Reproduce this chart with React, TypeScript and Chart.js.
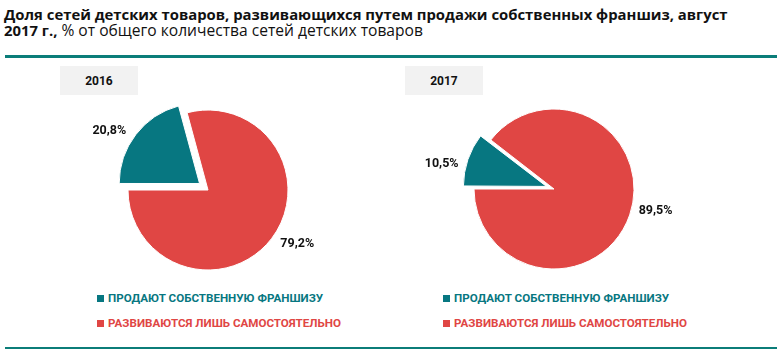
import React, { useEffect, useRef } from 'react';
import { Chart, registerables } from 'chart.js';

Chart.register(...registerables);

const categories = ['ПРОДАЮТ СОБСТВЕННУЮ ФРАНШИЗУ', 'РАЗВИВАЮТСЯ ЛИШЬ САМОСТОЯТЕЛЬНО'];
const years = ['2016', '2017'];
const values2016 = [20.8, 79.2];
const values2017 = [10.5, 89.5];
const colors = ['#077781', '#e04644'];

const titleLine1 = 'Доля сетей детских товаров, развивающихся путем продажи собственных франшиз, август';
const titleLine2Bold = '2017 г.,';
const titleLine2Rest = ' % от общего количества сетей детских товаров';

const FONT = "Roboto, 'Noto Sans', sans-serif";
const TITLE_FONT = "'Open Sans', Roboto, sans-serif";
const TEAL_LINE = '#0b7d79';
const LABEL_ANGLE_SHIFT = (-6.5 * Math.PI) / 180;

// Chart.js shifts an arc by offset/4*(1+fix); solve for the offset giving `px`
function offsetFor(values: number[], idx: number, px: number) {
  const total = values.reduce((a, b) => a + b, 0);
  const circ = (values[idx] / total) * Math.PI * 2;
  const fix = 1 - Math.sin(Math.min(Math.PI, circ));
  return (px * 4) / (1 + fix);
}

const labelPlugin = {
  id: 'outLabels',
  afterDatasetsDraw(chart: any) {
    const ctx = chart.ctx;
    const meta = chart.getDatasetMeta(0);
    const ds = chart.data.datasets[0];
    ctx.save();
    ctx.font = 'bold 12.5px ' + FONT;
    ctx.fillStyle = '#111';
    ctx.textAlign = 'center';
    ctx.textBaseline = 'middle';
    meta.data.forEach((arc: any, i: number) => {
      const p = arc.getProps(['x', 'y', 'startAngle', 'endAngle', 'outerRadius'], true);
      const mid = (p.startAngle + p.endAngle) / 2 + LABEL_ANGLE_SHIFT;
      const shift = ds.shiftPx ? ds.shiftPx[i] : 0;
      const r = p.outerRadius + shift + 24;
      const txt = ds.data[i].toFixed(1).replace('.', ',') + '%';
      ctx.fillText(txt, p.x + Math.cos(mid) * r, p.y + Math.sin(mid) * r);
    });
    ctx.restore();
  },
};

function PieChart({ values, left, top }: { values: number[]; left: number; top: number }) {
  const ref = useRef<HTMLCanvasElement>(null);
  useEffect(() => {
    if (!ref.current) return;
    const shiftPx = [11, 0];
    const chart = new Chart(ref.current, {
      type: 'pie',
      data: {
        labels: categories,
        datasets: [
          {
            data: values,
            backgroundColor: colors,
            borderColor: '#ffffff',
            borderWidth: 1,
            offset: values.map((_, i) => offsetFor(values, i, shiftPx[i])),
            shiftPx,
          } as any,
        ],
      },
      options: {
        responsive: false,
        animation: false,
        devicePixelRatio: 1,
        rotation: 270,
        radius: 80,
        layout: { padding: 0 },
        plugins: { legend: { display: false }, tooltip: { enabled: false } },
      } as any,
      plugins: [labelPlugin],
    });
    return () => chart.destroy();
  }, [values]);
  return (
    <canvas
      ref={ref}
      width={300}
      height={180}
      style={{ position: 'absolute', left, top, width: 300, height: 180 }}
    />
  );
}

function YearBox({ text, left }: { text: string; left: number }) {
  return (
    <div
      style={{
        position: 'absolute',
        left,
        top: 66,
        width: 78,
        height: 29,
        background: '#f2f2f2',
        font: 'bold 12px ' + FONT,
        color: '#111',
        display: 'flex',
        alignItems: 'center',
        justifyContent: 'center',
      }}
    >
      {text}
    </div>
  );
}

function Legend({ left }: { left: number }) {
  return (
    <div style={{ position: 'absolute', left, top: 290 }}>
      {categories.map((c, i) => (
        <div
          key={c}
          style={{
            display: 'flex',
            alignItems: 'center',
            height: 16,
            marginBottom: i === 0 ? 9 : 0,
            font: 'bold 11.6px ' + FONT,
            color: colors[i],
            whiteSpace: 'nowrap',
          }}
        >
          <span style={{ display: 'inline-block', width: 7, height: 7, background: colors[i], marginRight: 4 }} />
          {c}
        </div>
      ))}
    </div>
  );
}

export default function App() {
  return (
    <div style={{ position: 'absolute', left: 0, top: 0, width: 782, height: 354, background: '#fff', overflow: 'hidden' }}>
      <div
        style={{
          position: 'absolute',
          left: 4,
          top: 6,
          width: 776,
          font: '15px ' + TITLE_FONT,
          lineHeight: '16px',
          color: '#111',
          whiteSpace: 'nowrap',
        }}
      >
        <b style={{ fontSize: 14.85 }}>{titleLine1}</b>
        <br />
        <b style={{ fontSize: 14.85 }}>{titleLine2Bold}</b>
        <span style={{ fontSize: 15.6 }}>{titleLine2Rest}</span>
      </div>
      <div style={{ position: 'absolute', left: 5, top: 55, width: 772, height: 2.5, background: TEAL_LINE }} />
      <YearBox text={years[0]} left={60} />
      <YearBox text={years[1]} left={405} />
      <PieChart values={values2016} left={58} top={100} />
      <PieChart values={values2017} left={404} top={99} />
      <Legend left={97} />
      <Legend left={443} />
      <div style={{ position: 'absolute', left: 5, top: 346.5, width: 772, height: 2.5, background: TEAL_LINE }} />
    </div>
  );
}
